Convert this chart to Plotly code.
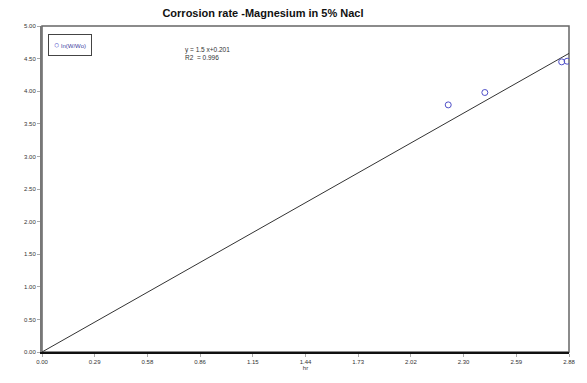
import plotly.graph_objects as go

# Data
time_hr = [2.22, 2.42, 2.84, 2.87]
ln_ratio = [3.79, 3.98, 4.45, 4.46]
trend_x = [0.0, 2.88]
trend_y = [0.0, 4.58]
x_ticks = [0.00, 0.288, 0.576, 0.864, 1.152, 1.44, 1.728, 2.016, 2.304, 2.592, 2.88]
x_labels = ["0.00", "0.29", "0.58", "0.86", "1.15", "1.44", "1.73", "2.02", "2.30", "2.59", "2.88"]
y_ticks = [0.0, 0.5, 1.0, 1.5, 2.0, 2.5, 3.0, 3.5, 4.0, 4.5, 5.0]
y_labels = ["%.2f" % v for v in y_ticks]
series_name = "ln(W/Wo)"

fig = go.Figure()
fig.add_trace(go.Scatter(
    x=trend_x, y=trend_y, mode="lines",
    line=dict(color="#333333", width=1), showlegend=False, hoverinfo="skip"))
fig.add_trace(go.Scatter(
    x=time_hr, y=ln_ratio, mode="markers", name=series_name, showlegend=False,
    marker=dict(symbol="circle-open", size=6, color="#5050c8", line=dict(width=1))))

fig.update_layout(
    width=587, height=383,
    margin=dict(l=42, r=14, t=26, b=22),
    paper_bgcolor="white", plot_bgcolor="white",
    font=dict(family="Liberation Sans Narrow, Arial Narrow, Liberation Sans, Arial", size=6, color="#333"),
    title=dict(text="<b>Corrosion rate -Magnesium in 5% Nacl</b>", x=0.448, xanchor="center",
               y=0.965, yanchor="middle", font=dict(size=11, color="#111")),
    showlegend=False,
)
fig.update_xaxes(
    range=[0, 2.88], tickmode="array", tickvals=x_ticks, ticktext=x_labels,
    showgrid=False, zeroline=False, showline=True, linecolor="#111", linewidth=2,
    mirror=False, ticks="outside", ticklen=3, tickcolor="#aaa",
    title=dict(text="hr", font=dict(size=6), standoff=2),
)
fig.update_yaxes(
    range=[0, 5.0], tickmode="array", tickvals=y_ticks, ticktext=y_labels,
    showgrid=False, zeroline=False, showline=True, linecolor="#777", linewidth=2,
    ticks="outside", ticklen=3, tickcolor="#aaa",
)
# right and top border of the plot area
fig.add_shape(type="rect", xref="paper", yref="paper", x0=0, y0=0, x1=1, y1=1,
              line=dict(color="#666", width=1.5), fillcolor="rgba(0,0,0,0)", layer="below")
# legend box
fig.add_annotation(xref="paper", yref="paper", x=0.011, y=0.975, xanchor="left", yanchor="top",
                   text="<span style='color:#5050c8;font-size:9px'>○</span> <span style='color:#4040a0'>" + series_name + "</span>",
                   showarrow=False, align="left", font=dict(size=6),
                   bordercolor="#444", borderwidth=1, borderpad=5, bgcolor="white")
fig.add_annotation(xref="x", yref="y", x=0.77, y=4.72, xanchor="left", yanchor="top",
                   text="y = 1.5 x+0.201<br>R2  = 0.996", showarrow=False, align="left",
                   font=dict(size=6.5, color="#333"))
fig.write_html("out.html")
